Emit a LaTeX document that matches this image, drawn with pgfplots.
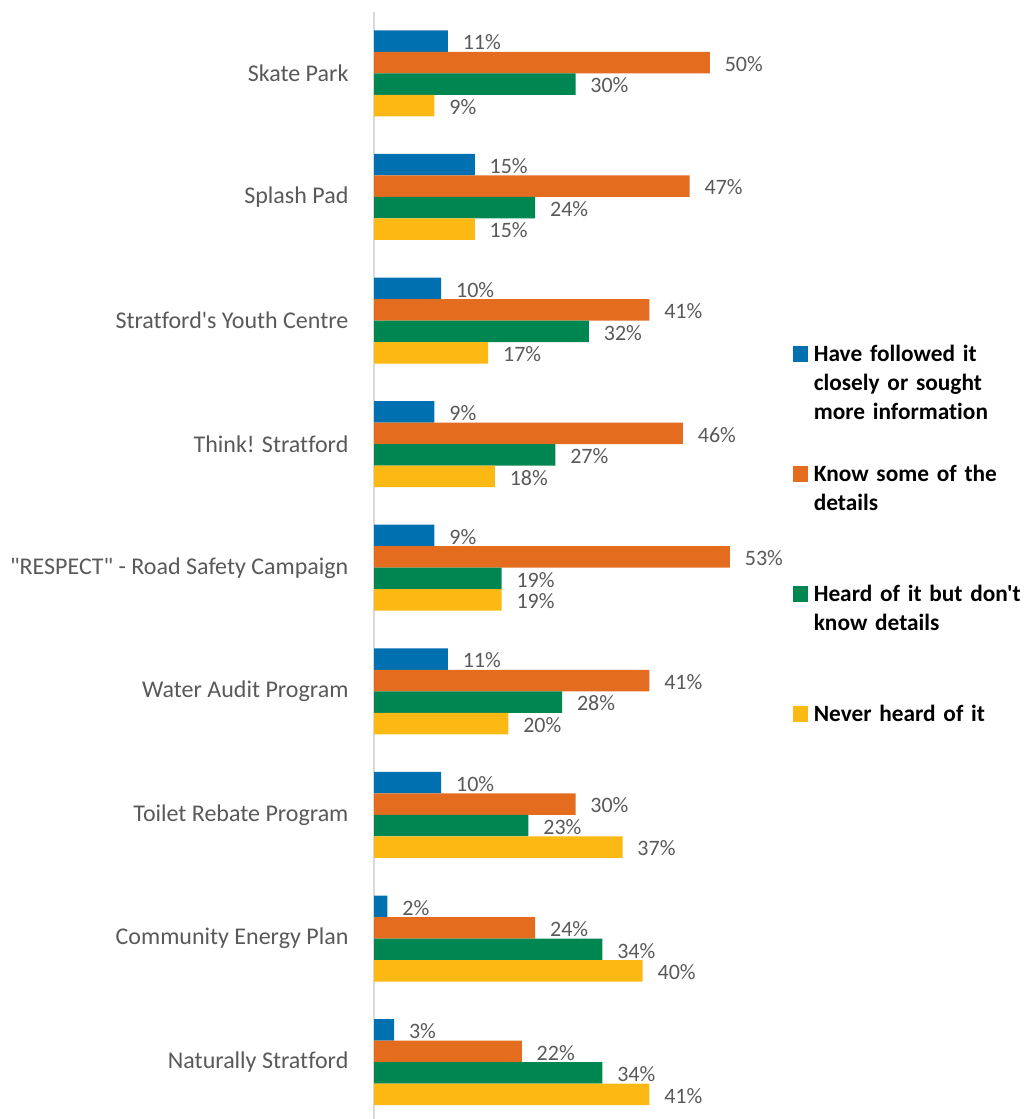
\documentclass[border=0pt]{standalone}
\usepackage{pgfplots}
\pgfplotsset{compat=1.18}
\usepackage{fontspec}
\setmainfont{Carlito}[Ligatures={TeXOff,CommonOff}]

\definecolor{cBlue}{RGB}{0,112,176}
\definecolor{cOrange}{RGB}{227,108,31}
\definecolor{cGreen}{RGB}{0,135,81}
\definecolor{cYellow}{RGB}{253,185,19}
\definecolor{txtgray}{RGB}{89,89,89}
\definecolor{axisgray}{RGB}{217,217,217}

\begin{document}
\begin{tikzpicture}
\path[use as bounding box] (0pt,0pt) rectangle (774pt,839.25pt);
\begin{axis}[
  at={(280.5pt,0pt)}, anchor=south west,
  scale only axis, width=302.25pt, height=830.6pt,
  xbar, bar width=0.174,
  xmin=0, xmax=60, ymin=-0.46, ymax=8.5,
  axis x line=none, axis y line*=left,
  y axis line style={draw=axisgray, line width=1.5pt, -},
  ytick={0,...,8},
  yticklabels={Naturally Stratford, Community Energy Plan, Toilet Rebate Program,
    Water Audit Program, {"RESPECT" - Road Safety Campaign}, Think! Stratford,
    Stratford's Youth Centre, Splash Pad, Skate Park},
  major tick length=0pt, ytick style={draw=none},
  yticklabel style={font=\fontsize{18}{21}\selectfont, text=txtgray, inner sep=0pt, xshift=-19pt},
  nodes near coords={\pgfmathprintnumber[assume math mode=true]{\pgfplotspointmeta}\%},
  point meta=x,
  every node near coord/.append style={anchor=west, inner sep=0pt, xshift=11pt, yshift=-1pt,
    font=\fontsize{16.5}{19}\selectfont, text=txtgray},
  clip=false,
  legend cell align=left,
  legend style={draw=none, fill=none, inner sep=0pt, outer sep=0pt,
    at={(axis description cs:1.04,0.70)}, anchor=north west,
    column sep=4pt, row sep=0pt,
    cells={anchor=base west},
    nodes={inner sep=0pt, text width=165pt, align=left, text height=13pt, text depth=77pt,
      font=\bfseries\fontsize{17.5}{21.75}\selectfont}},
  legend image code/.code={\fill[#1] (0pt,-0.5pt) rectangle (11.5pt,11pt);},
]
\addplot[fill=cBlue, draw=none, bar shift=0.261] coordinates {
  (3,0) (2,1) (10,2) (11,3) (9,4) (9,5) (10,6) (15,7) (11,8)};
\addlegendentry{Have followed it\\closely or sought\\more information}
\addplot[fill=cOrange, draw=none, bar shift=0.087] coordinates {
  (22,0) (24,1) (30,2) (41,3) (53,4) (46,5) (41,6) (47,7) (50,8)};
\addlegendentry{Know some of the\\details}
\addplot[fill=cGreen, draw=none, bar shift=-0.087] coordinates {
  (34,0) (34,1) (23,2) (28,3) (19,4) (27,5) (32,6) (24,7) (30,8)};
\addlegendentry{Heard of it but don't\\know details}
\addplot[fill=cYellow, draw=none, bar shift=-0.261] coordinates {
  (41,0) (40,1) (37,2) (20,3) (19,4) (18,5) (17,6) (15,7) (9,8)};
\addlegendentry{Never heard of it}
\end{axis}
\end{tikzpicture}
\end{document}
